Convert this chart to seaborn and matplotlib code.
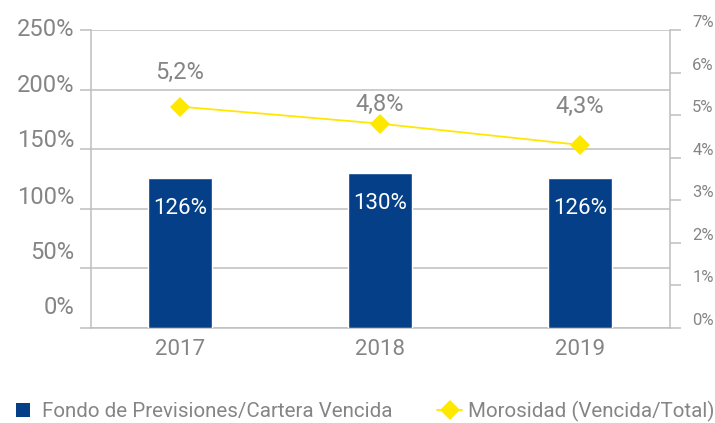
import matplotlib
matplotlib.use("Agg")
import matplotlib.pyplot as plt
import matplotlib.transforms as mtransforms
from matplotlib.lines import Line2D
from matplotlib.ticker import FixedLocator, FuncFormatter
import seaborn as sns
import pandas as pd

# data
years = ["2017", "2018", "2019"]
cobertura = [126, 130, 126]          # Fondo de Previsiones / Cartera Vencida (%)
morosidad = [5.2, 4.8, 4.3]          # Morosidad (Vencida/Total) (%)
morosidad_labels = ["5,2%", "4,8%", "4,3%"]
label_offsets = [24.5, 14, 27.5]     # points above marker for each label

bar_color = "#043F87"
line_color = "#FFE800"
grey = "#858585"
grid_grey = "#BFBFBF"

sns.set_style("white")
plt.rcParams["font.family"] = ["Roboto", "DejaVu Sans"]

df = pd.DataFrame({"year": years, "cobertura": cobertura, "morosidad": morosidad})
df["pos"] = range(len(years))

fig, ax = plt.subplots(figsize=(7.15, 4.23), dpi=100)
fig.subplots_adjust(left=0.127, right=0.937, top=0.929, bottom=0.225)

sns.barplot(data=df, x="year", y="cobertura", color=bar_color, width=0.32,
            saturation=1, ax=ax, zorder=3)
ax.set_xlim(-0.445, 2.45)
ax.set_ylim(0, 250)
ax.yaxis.set_major_locator(FixedLocator([0, 50, 100, 150, 200, 250]))
ax.yaxis.set_major_formatter(FuncFormatter(lambda v, p: f"{v:.0f}%"))
ax.grid(axis="y", color=grid_grey, linewidth=1.1, zorder=0)
ax.set_axisbelow(True)
ax.set_xlabel("")
ax.set_ylabel("")

for s in ["top", "right"]:
    ax.spines[s].set_visible(False)
for s in ["left", "bottom"]:
    ax.spines[s].set_color(grid_grey)
    ax.spines[s].set_linewidth(1.1)

ax.tick_params(axis="y", colors=grey, labelsize=17, length=8, width=1.1,
               color=grid_grey, pad=4, left=True)
ax.tick_params(axis="x", which="major", colors=grey, labelsize=16, length=0, pad=8)
ax.set_xticks([-0.445, 0.5, 1.5, 2.45], minor=True)
ax.tick_params(axis="x", which="minor", length=11, width=1.1, color=grid_grey)
ax.spines["left"].set_bounds(0, 250)

for i, v in enumerate(cobertura):
    ax.text(i, v - 26, f"{v}%", color="white", ha="center", va="center",
            fontsize=16, zorder=4)

ax2 = ax.twinx()
sns.lineplot(data=df, x="pos", y="morosidad", color=line_color, linewidth=1.3,
             marker="D", markersize=10, markeredgewidth=0, ax=ax2, zorder=5)
ax2.set_ylim(0, 7)
ax2.yaxis.set_major_locator(FixedLocator(range(0, 8)))
ax2.yaxis.set_major_formatter(FuncFormatter(lambda v, p: f"{v:.0f}%"))
ax2.set_xlabel("")
ax2.set_ylabel("")
for s in ["top", "left", "bottom"]:
    ax2.spines[s].set_visible(False)
ax2.spines["right"].set_color(grid_grey)
ax2.spines["right"].set_linewidth(1.1)
ax2.tick_params(axis="y", colors=grey, labelsize=12, length=8, width=1.1,
                color=grid_grey, pad=8, right=True)

# the original tick labels sit a little above their ticks
left_shift = [23, 18, 14, 11, 7, 3]   # px, for 0% .. 250%
for tick, dy in zip(ax.yaxis.get_major_ticks(), left_shift):
    off = mtransforms.ScaledTranslation(0, dy / 100, fig.dpi_scale_trans)
    tick.label1.set_transform(tick.label1.get_transform() + off)
for tick in ax2.yaxis.get_major_ticks():
    off = mtransforms.ScaledTranslation(0, 9 / 100, fig.dpi_scale_trans)
    tick.label2.set_transform(tick.label2.get_transform() + off)

for i, (v, lab, off) in enumerate(zip(morosidad, morosidad_labels, label_offsets)):
    ax2.annotate(lab, (i, v), xytext=(0, off), textcoords="offset points",
                 ha="center", va="center", color=grey, fontsize=17)

handles = [
    Line2D([], [], linestyle="none", marker="s", markersize=10,
           color=bar_color, markeredgewidth=0),
    Line2D([], [], color=line_color, linewidth=1.3, marker="D", markersize=10,
           markeredgewidth=0),
]
fig.legend(handles, ["Fondo de Previsiones/Cartera Vencida", "Morosidad (Vencida/Total)"],
           loc="center left", bbox_to_anchor=(-0.005, 0.028), ncol=2, frameon=False,
           fontsize=14.8, labelcolor=grey, handlelength=1.2, handletextpad=0.3,
           columnspacing=2.2, borderpad=0.2)

plt.savefig("out.png", dpi=100)
